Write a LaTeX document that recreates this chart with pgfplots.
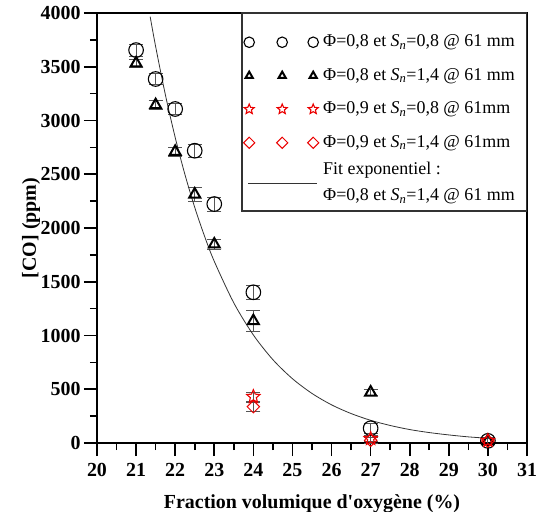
\documentclass[border=0pt]{standalone}
\usepackage{fontspec}
\setmainfont{Liberation Serif}
\usepackage{pgfplots}
\pgfplotsset{compat=1.18}
\definecolor{ebar}{RGB}{85,85,85}
\definecolor{myred}{RGB}{235,0,0}
\pgfdeclareplotmark{ostar}{%
  \pgfpathmoveto{\pgfqpointpolar{90}{\pgfplotmarksize}}%
  \pgfpathlineto{\pgfqpointpolar{126}{0.45\pgfplotmarksize}}%
  \pgfpathlineto{\pgfqpointpolar{162}{\pgfplotmarksize}}%
  \pgfpathlineto{\pgfqpointpolar{198}{0.45\pgfplotmarksize}}%
  \pgfpathlineto{\pgfqpointpolar{234}{\pgfplotmarksize}}%
  \pgfpathlineto{\pgfqpointpolar{270}{0.45\pgfplotmarksize}}%
  \pgfpathlineto{\pgfqpointpolar{306}{\pgfplotmarksize}}%
  \pgfpathlineto{\pgfqpointpolar{342}{0.45\pgfplotmarksize}}%
  \pgfpathlineto{\pgfqpointpolar{18}{\pgfplotmarksize}}%
  \pgfpathlineto{\pgfqpointpolar{54}{0.45\pgfplotmarksize}}%
  \pgfpathclose\pgfusepathqstroke}
\newcommand{\Sn}{\textit{S}\textsubscript{\textit{n}}}
\newcommand{\legbox}{\pgfpathrectangle{\pgfpoint{0bp}{-8bp}}{\pgfpoint{78bp}{16bp}}\pgfusepath{use as bounding box}}
\pgfplotsset{
  threemarks/.style={legend image code/.code={%
    \legbox
    \draw[##1, every mark/.append style={scale=#1}] plot[only marks] coordinates {(7bp,0bp)(40bp,0bp)(71bp,0bp)};}},
  fitlegend/.style={legend image code/.code={%
    \legbox
    \draw[##1] (6bp,0bp) -- (75bp,0bp);}},
}
\begin{document}
\begin{tikzpicture}
\begin{axis}[
  scale only axis, width=430bp, height=430bp,
  xmin=20, xmax=31, ymin=0, ymax=4000,
  xtick={20,21,...,31}, ytick={0,500,...,4000},
  minor x tick num=1, minor y tick num=1,
  xtick pos=bottom, ytick pos=left, tick align=outside,
  major tick length=13bp, minor tick length=7bp,
  every tick/.style={black, line width=1.6bp},
  axis line style={line width=1.6bp},
  /pgf/number format/assume math mode=true,
  /pgf/number format/set thousands separator={},
  ticklabel style={font=\bfseries\fontsize{20}{20}\selectfont},
  xticklabel style={yshift=-4bp},
  xlabel={Fraction volumique d\textquotesingle oxygène (\%)},
  ylabel={[CO] (ppm)},
  xlabel style={at={(axis description cs:0.5,-0.142)}, anchor=center, font=\bfseries\fontsize{20}{20}\selectfont},
  ylabel style={at={(axis description cs:-0.1535,0.5)}, anchor=center, font=\bfseries\fontsize{20}{20}\selectfont},
  legend style={at={(0.3372,0.951)}, anchor=north west, draw=none, fill=none,
    inner xsep=0bp, inner ysep=0bp, row sep=17.5bp, column sep=3bp,
    font=\fontsize{18}{21}\selectfont,
    nodes={inner sep=0bp, text depth=, anchor=west}},
  legend cell align=left,
  error bars/y dir=both, error bars/y explicit,
  error bars/error bar style={ebar, line width=0.9bp},
  error bars/error mark options={rotate=90, ebar, mark size=7bp, line width=0.9bp},
]
\draw[black!80, line width=1.2bp] (rel axis cs:0.3372,0.5395) rectangle (rel axis cs:1,1);

\addplot[only marks, mark=o, mark size=7.3bp, black, line width=1.1bp, threemarks=0.72]
coordinates {
(21,3655) +- (0,55)
(21.5,3386) +- (0,55)
(22,3107) +- (0,55)
(22.5,2719) +- (0,60)
(23,2223) +- (0,65)
(24,1402) +- (0,65)
(27,137) +- (0,45)
(30,20) +- (0,30)
};
\addlegendentry{Φ=0,8 et \Sn=0,8 @ 61 mm}

\addplot[only marks, mark=triangle, mark size=6.3bp, black, line width=2bp, threemarks=0.65]
coordinates {
(21,3532) +- (0,40)
(21.5,3144) +- (0,45)
(22,2710) +- (0,40)
(22.5,2313) +- (0,62)
(23,1848) +- (0,45)
(24,1135) +- (0,98)
(27,471) +- (0,30)
(30,20) +- (0,30)
};
\addlegendentry{Φ=0,8 et \Sn=1,4 @ 61 mm}

\addplot[only marks, mark=ostar, mark size=7bp, myred, line width=1.1bp, threemarks=0.75]
coordinates {
(24,431) +- (0,40)
(27,40) +- (0,30)
(30,22) +- (0,25)
};
\addlegendentry{Φ=0,9 et \Sn=0,8 @ 61mm}

\addplot[only marks, mark=square, mark options={rotate=45}, mark size=4.4bp, myred, line width=1bp, threemarks=0.9]
coordinates {
(24,338) +- (0,40)
(27,25) +- (0,25)
(30,18) +- (0,25)
};
\addlegendentry{Φ=0,9 et \Sn=1,4 @ 61mm}

\addplot[black!80, line width=0.8bp, smooth, no marks, forget plot, error bars/y dir=none]
coordinates {
(21.36,3966) (21.5,3688) (21.75,3238) (22.0,2843) (22.25,2497) (22.5,2192)
(22.75,1925) (23.0,1690) (23.5,1303) (24.0,1005) (24.5,775) (25.0,598)
(25.5,461) (26.0,355) (26.5,274) (27.0,211) (27.5,163) (28.0,125)
(28.5,97) (29.0,75) (29.5,57) (30.0,44)
};
\addlegendimage{black!80, line width=0.8bp, fitlegend}
\addlegendentry{\parbox[c][30bp][c]{205bp}{\fontsize{18}{26}\selectfont Fit exponentiel :\\Φ=0,8 et \Sn=1,4 @ 61 mm}}
\end{axis}
\pgfresetboundingbox
\path ([xshift=-97bp,yshift=-69bp]current axis.south west) rectangle ([xshift=9bp,yshift=13bp]current axis.north east);
\end{tikzpicture}
\end{document}
